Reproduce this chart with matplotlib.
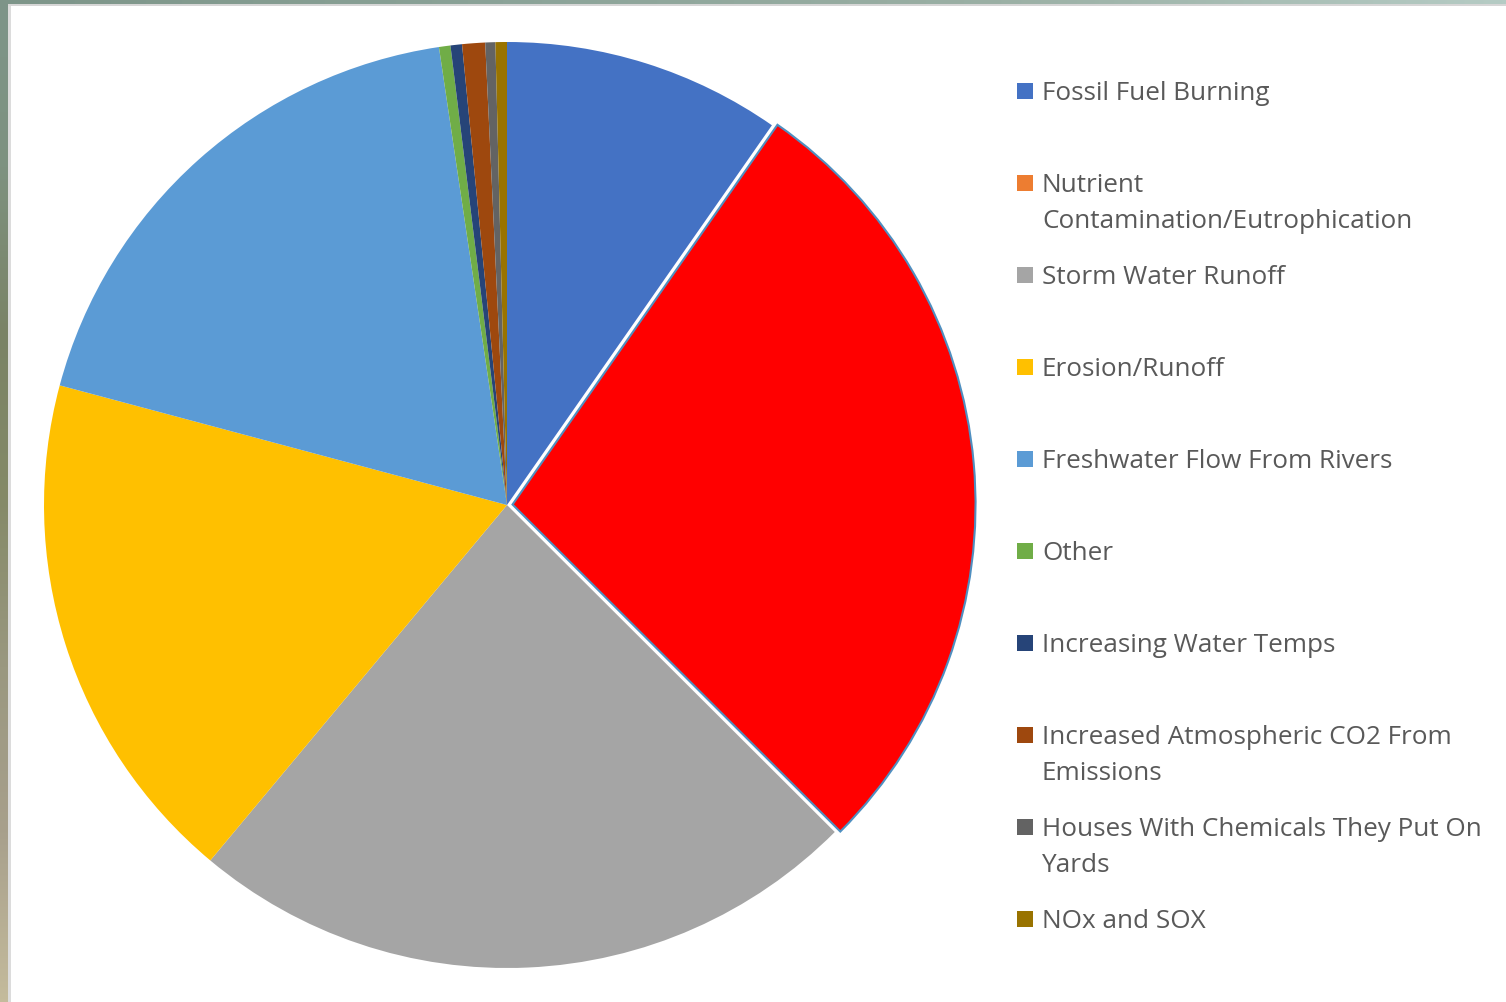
import matplotlib.pyplot as plt
import numpy as np
from matplotlib.patches import Rectangle
from matplotlib.colors import to_rgb

LABELS = [
    "Fossil Fuel Burning",
    "Nutrient\nContamination/Eutrophication",
    "Storm Water Runoff",
    "Erosion/Runoff",
    "Freshwater Flow From Rivers",
    "Other",
    "Increasing Water Temps",
    "Increased Atmospheric CO2 From\nEmissions",
    "Houses With Chemicals They Put On\nYards",
    "NOx and SOX",
]
SHARES = [9.7, 27.8, 23.6, 18.1, 18.5, 0.4, 0.4, 0.8, 0.35, 0.4]
COLORS = ["#4472c4", "#ed7d31", "#a5a5a5", "#ffc000", "#5b9bd5",
          "#70ad47", "#264478", "#9e480e", "#636363", "#997300"]
HIGHLIGHT = 1          # nutrient slice is pulled out and filled red
HIGHLIGHT_FILL = "#ff0000"

W, H = 1506, 1003
TEXT = "#595959"


def fx(px):
    return px / W


def fy(py):
    return 1 - py / H


def gradient(stops, n=200):
    pos = np.linspace(0, 1, len(stops))
    rgb = np.array([to_rgb(c) for c in stops])
    t = np.linspace(0, 1, n)
    return np.stack([np.interp(t, pos, rgb[:, k]) for k in range(3)], axis=-1)


fig = plt.figure(figsize=(W / 100, H / 100), dpi=100)
fig.patch.set_facecolor("white")

# slide backdrop showing along the top and left edges
top = fig.add_axes([0, fy(5), 1, 5 / H])
top.imshow(gradient(["#7d9589", "#8ba398", "#9bb0a5", "#b5cbc4"])[None, :, :],
           aspect="auto", interpolation="bilinear")
top.axis("off")
left = fig.add_axes([0, 0, fx(8), 1])
left.imshow(gradient(["#7d9589", "#7e9280", "#7a8366", "#858a68", "#9a9880",
                      "#a8a08c", "#c4bb9c"])[:, None, :],
            aspect="auto", interpolation="bilinear")
left.axis("off")
fig.patches.append(Rectangle((fx(8), 0), fx(3), fy(5), transform=fig.transFigure,
                             facecolor="#dcdcdc", edgecolor="none"))
fig.patches.append(Rectangle((fx(8), fy(7)), 1, 2 / H, transform=fig.transFigure,
                             facecolor="#d6d6d6", edgecolor="none"))

# pie: centre (507, 506) px, radius 463 px
cx, cy, r = 507, 506, 463
ax = fig.add_axes([fx(cx - r), fy(cy + r), 2 * r / W, 2 * r / H])
explode = [0.012 if i == HIGHLIGHT else 0 for i in range(len(SHARES))]
wedges, _ = ax.pie(SHARES, colors=COLORS, startangle=90, counterclock=False,
                   explode=explode, radius=1,
                   wedgeprops=dict(linewidth=0))
wedges[HIGHLIGHT].set_facecolor(HIGHLIGHT_FILL)
wedges[HIGHLIGHT].set_edgecolor("#4f8fc0")
wedges[HIGHLIGHT].set_linewidth(1.5)
ax.set_xlim(-1, 1)
ax.set_ylim(-1, 1)
ax.set_aspect("auto")
ax.axis("off")

# legend, one entry every 92 px
for i, (label, color) in enumerate(zip(LABELS, COLORS)):
    yc = 92 + 92 * i
    fig.patches.append(Rectangle((fx(1017), fy(yc + 8)), 16 / W, 16 / H,
                                 transform=fig.transFigure,
                                 facecolor=color, edgecolor="none"))
    for k, line in enumerate(label.split("\n")):
        fig.text(fx(1042), fy(yc + 8 + 36 * k), line, color=TEXT,
                 fontsize=18.8, family="Open Sans", va="baseline", ha="left")

fig.savefig("out.png", dpi=100)
